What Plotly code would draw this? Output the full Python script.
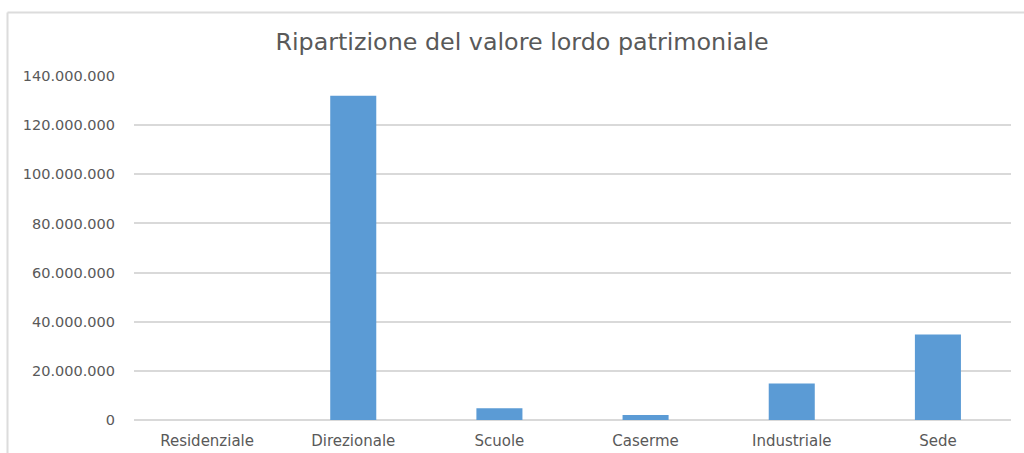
import plotly.graph_objects as go

# Gross asset value by property category (EUR)
categorie = ["Residenziale", "Direzionale", "Scuole", "Caserme", "Industriale", "Sede"]
valori = [0, 132_000_000, 4_800_000, 2_000_000, 14_900_000, 34_800_000]
tick_valori = [0, 20_000_000, 40_000_000, 60_000_000, 80_000_000,
               100_000_000, 120_000_000, 140_000_000]

GRIGIO_TESTO = "#595959"
GRIGIO_LINEE = "#D9D9D9"
BLU = "#5B9BD5"

W, H = 1024, 453
ML, MR, MT, MB = 134, 13, 76, 33
pw, ph = W - ML - MR, H - MT - MB

fig = go.Figure(
    go.Bar(
        x=categorie,
        y=valori,
        marker=dict(color=BLU, line=dict(width=0)),
        hoverinfo="x+y",
    )
)

# outer chart frame (top and left edges)
fx0 = (7.5 - ML) / pw
fy0 = 1 + (MT - 12.5) / ph
fig.add_shape(type="line", xref="paper", yref="paper",
              x0=fx0, x1=(W - ML) / pw + 0.05, y0=fy0, y1=fy0,
              line=dict(color="#DCDCDC", width=2))
fig.add_shape(type="line", xref="paper", yref="paper",
              x0=fx0, x1=fx0, y0=fy0, y1=-0.2,
              line=dict(color="#DCDCDC", width=2))

fig.update_layout(
    width=W, height=H,
    margin=dict(l=ML, r=MR, t=MT, b=MB, autoexpand=False),
    paper_bgcolor="white",
    plot_bgcolor="white",
    separators=",.",
    bargap=0.685,
    showlegend=False,
    font=dict(family="DejaVu Sans", color=GRIGIO_TESTO, size=14),
    title=dict(
        text="Ripartizione del valore lordo patrimoniale",
        x=522 / W, xanchor="center", xref="container",
        y=1 - 42 / H, yanchor="middle", yref="container",
        font=dict(family="DejaVu Sans", size=23.8, color=GRIGIO_TESTO),
    ),
    xaxis=dict(
        showgrid=False,
        showline=False,
        ticks="",
        automargin=False,
        tickfont=dict(size=15, color=GRIGIO_TESTO),
        ticklabelstandoff=10,
    ),
    yaxis=dict(
        range=[0, 140_000_000],
        tickvals=tick_valori,
        tickformat=",d",
        showgrid=True,
        gridcolor=GRIGIO_LINEE,
        gridwidth=1.5,
        zeroline=True,
        zerolinecolor=GRIGIO_LINEE,
        zerolinewidth=1.5,
        showline=False,
        ticks="",
        automargin=False,
        tickfont=dict(size=14.5, color=GRIGIO_TESTO),
        ticklabelstandoff=18,
    ),
)

fig.write_html("out.html")
